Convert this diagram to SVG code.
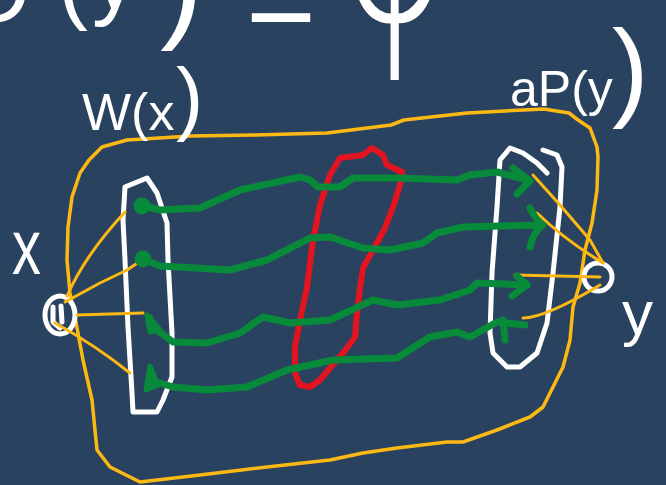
<svg xmlns="http://www.w3.org/2000/svg" width="666" height="485" viewBox="0 0 666 485">
<style>
.bg{fill:#29425f}
.w{fill:none;stroke:#ffffff;stroke-width:5;stroke-linecap:round;stroke-linejoin:round}
.o{fill:none;stroke:#fdb913;stroke-width:3;stroke-linecap:round;stroke-linejoin:round}
.ob{fill:none;stroke:#fdb913;stroke-width:3.5;stroke-linecap:round;stroke-linejoin:round}
.g{fill:none;stroke:#078a3a;stroke-width:7;stroke-linecap:round;stroke-linejoin:round}
.gf{fill:#078a3a;stroke:#078a3a;stroke-width:5;stroke-linejoin:round}
.r{fill:none;stroke:#e3131f;stroke-width:6;stroke-linecap:round;stroke-linejoin:round}
.t{fill:#ffffff;font-family:"Liberation Sans",Arial,sans-serif}
</style>
<rect class="bg" x="0" y="0" width="666" height="485"/>
<g id="equation">
<text class="t" font-size="90"><tspan x="-35" y="22">D</tspan><tspan x="58" y="12">(</tspan><tspan x="92" y="8">y</tspan><tspan x="160" y="24" font-size="130">)</tspan><tspan x="246" y="42" font-size="120">=</tspan></text>
<text fill="#ffffff" font-family="DejaVu Sans, sans-serif" font-weight="200" font-size="180" transform="translate(335,20) scale(1,1.6)">φ</text>
</g>
<g id="region">
<path class="ob" d="M89,160 L102,147 L127,140 L191,136 L255,135 L327,133 L391,125 L404,120 L467,113 L544,109 L569,113 L578,120 L590,128 L597,147 L598,157 L597,190 L592,223 L585,250 L580,283 L573,307 L570,340 L563,367 L553,387 L543,407 L530,417 L497,430 L463,442 L447,442 L397,448 L363,453 L330,460 L267,467 L200,475 L140,482 L110,467 L97,450 L92,400 L83,360 L75,317 L70,293 L67,260 L68,227 L72,197 L80,173 Z"/>
</g>
<g id="node-x">
<ellipse class="w" cx="60" cy="315" rx="15" ry="19"/>
<path class="w" d="M53,307 L53,322 L60,328 M61,306 L62,322" stroke-width="3.5"/>
<text class="t" font-size="58" transform="translate(12,274) scale(1,1.35)">x</text>
</g>
<g id="node-wx">
<path class="w" d="M125,187 L147,178 L157,193 L167,223 L168,260 L172,333 L172,377 L163,400 L157,412 L133,412 L132,393 L128,327 L125,260 L123,220 Z"/>
<text class="t" font-size="52" y="130"><tspan x="82">W(x</tspan><tspan x="176" font-size="82" dy="-5">)</tspan></text>
</g>
<g id="node-cut">
<path class="r" d="M340,158 L363,155 L372,148 L383,155 L387,165 L402,172 L400,185 L393,207 L385,228 L373,250 L363,268 L360,288 L357,313 L355,337 L343,353 L330,368 L320,380 L310,387 L300,385 L295,373 L295,347 L300,320 L307,287 L313,240 L320,205 L330,175 Z"/>
</g>
<g id="node-apy">
<path class="w" d="M547,173 L537,163 L523,153 L510,148 L500,160 L497,207 L492,273 L490,333 L493,353 L507,367 L520,367 L537,353 L547,323 L553,273 L560,207 L562,167 L557,155 L543,150"/>
<text class="t" font-size="50" y="106"><tspan x="510">aP(y</tspan><tspan x="612" font-size="110" dy="0">)</tspan></text>
</g>
<g id="node-y">
<circle class="w" cx="598" cy="277" r="14"/>
<text class="t" font-size="62" x="622" y="334">y</text>
</g>
<g id="connectors">
<path class="o" d="M67,296 Q85,255 125,212"/>
<path class="o" d="M65,302 L100,283 L127,270 L142,260"/>
<path class="o" d="M77,315 L143,313"/>
<path class="o" d="M55,323 Q95,345 130,373"/>
<path class="o" d="M533,175 L560,205 L590,240 L603,263"/>
<path class="o" d="M537,213 Q565,240 603,263"/>
<path class="o" d="M515,275 L600,277"/>
<path class="o" d="M523,318 Q545,318 600,285"/>
<circle class="gf" cx="142" cy="206" r="6"/>
<path class="g" d="M140,205 L160,210 L200,208 L240,190 L300,177 L310,180 L318,187 L340,187 L353,178 L397,178 L457,180 L470,175 L497,172 L527,180"/>
<path class="g" d="M513,168 L530,181 L517,194"/>
<circle class="gf" cx="143" cy="259" r="6"/>
<path class="g" d="M145,260 L160,266 L230,270 L267,260 L310,238 L330,237 L363,248 L390,250 L423,243 L437,233 L463,227 L540,225"/>
<path class="g" d="M530,208 Q537,222 543,225 Q533,232 530,247"/>
<path class="gf" d="M147,315 L150,332 L160,330 Z"/>
<path class="g" d="M150,318 L153,327 L173,342 L207,343 L240,333 L263,317 L290,323 L330,320 L373,300 L397,305 L440,300 L470,290 L477,283 L527,285"/>
<path class="g" d="M517,276 L527,285 L512,296"/>
<path class="gf" d="M150,366 L146,390 L158,385 Z"/>
<path class="g" d="M150,380 L173,387 L207,390 L247,387 L287,370 L333,360 L397,358 L430,337 L457,332 L470,337 L497,322 L525,325"/>
<path class="g" d="M503,320 L505,340"/>
</g>
</svg>
